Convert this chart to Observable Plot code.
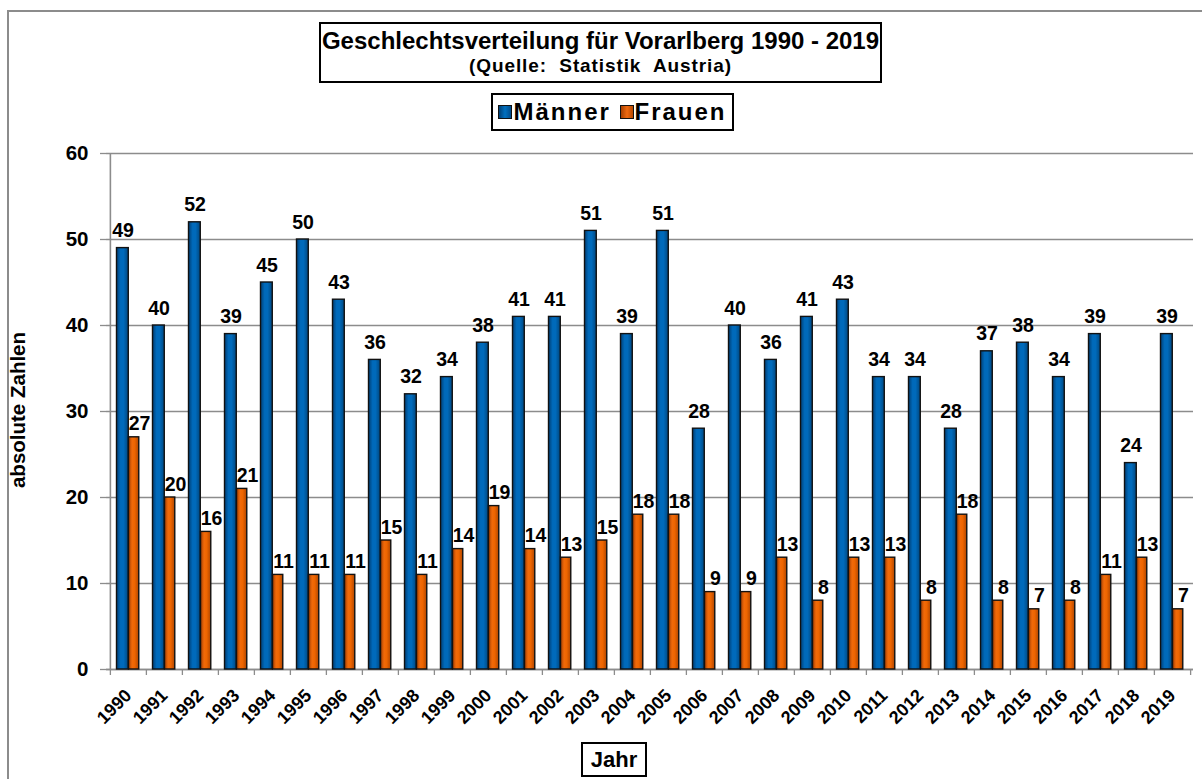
<!DOCTYPE html>
<html>
<head>
<meta charset="utf-8">
<script src="https://cdn.jsdelivr.net/npm/d3@7"></script>
<script src="https://cdn.jsdelivr.net/npm/@observablehq/plot@0.6"></script>
<style>
  html, body { margin: 0; padding: 0; background: #fff; overflow: hidden; }
  #wrap { position: relative; width: 1202px; height: 779px; overflow: hidden; font-family: "Liberation Sans", Arial, sans-serif; font-weight: bold; color: #000; }
  #frame { position: absolute; left: 7px; top: 10px; width: 1300px; height: 900px; border-left: 2px solid #8c8c8c; border-top: 2px solid #8c8c8c; box-sizing: border-box; }
  #chart { position: absolute; left: 0; top: 0; }
  .box { position: absolute; border: 2px solid #000; background: #fff; box-sizing: border-box; text-align: center; white-space: nowrap; }
  #title { left: 319px; top: 22px; width: 563px; height: 61px; }
  #title .t1 { font-size: 24px; margin-top: 2px; line-height: 29px; }
  #title .t2 { font-size: 19px; line-height: 22px; letter-spacing: 0.9px; }
  #legend { left: 491px; top: 93px; width: 243px; height: 38px; font-size: 24px; line-height: 34px; letter-spacing: 2px; }
  #legend .sw { display: inline-block; width: 12px; height: 12px; border: 1px solid #111; vertical-align: 1px; margin-right: 1px; }
  #jahr { left: 581px; top: 742px; width: 66px; height: 35px; font-size: 22px; line-height: 31px; }
  #ylab { position: absolute; left: 18px; top: 410px; transform: translate(-50%, -50%) rotate(-90deg); font-size: 20.5px; white-space: nowrap; }
</style>
</head>
<body>
<div id="wrap">
  <div id="frame"></div>
  <div id="chart"></div>
  <div class="box" id="title"><div class="t1">Geschlechtsverteilung für Vorarlberg 1990 - 2019</div><div class="t2">(Quelle:&nbsp; Statistik&nbsp; Austria)</div></div>
  <div class="box" id="legend"><span class="sw" style="background:linear-gradient(90deg,#003e73,#0070c0,#004a88)"></span>Männer&nbsp;<span class="sw" style="background:linear-gradient(90deg,#a84000,#f06a10,#b84800)"></span>Frauen</div>
  <div class="box" id="jahr">Jahr</div>
  <div id="ylab">absolute Zahlen</div>
</div>
<script>
const years = [1990,1991,1992,1993,1994,1995,1996,1997,1998,1999,2000,2001,2002,2003,2004,2005,2006,2007,2008,2009,2010,2011,2012,2013,2014,2015,2016,2017,2018,2019];
const maenner = [49,40,52,39,45,50,43,36,32,34,38,41,41,51,39,51,28,40,36,41,43,34,34,28,37,38,34,39,24,39];
const frauen  = [27,20,16,21,11,11,11,15,11,14,19,14,13,15,18,18,9,9,13,8,13,13,8,18,8,7,8,11,13,7];
const yTicks = [0,10,20,30,40,50,60];

const data = years.map((y, i) => ({year: y, m: maenner[i], f: frauen[i]}));

const W = 1202, H = 779, mL = 106, mR = 9, mT = 153, mB = 110;
const step = (W - mL - mR) / years.length;
const barW = 12;
const gapL = 6.5;

const plot = Plot.plot({
  width: W, height: H,
  marginLeft: mL, marginRight: mR, marginTop: mT, marginBottom: mB,
  style: {fontFamily: "'Liberation Sans', Arial, sans-serif", background: "transparent", overflow: "visible"},
  x: {type: "band", domain: years, padding: 0},
  y: {domain: [0, 60]},
  marks: [
    Plot.gridY(yTicks, {stroke: "#8c8c8c", strokeOpacity: 1, strokeWidth: 1.3}),
    Plot.axisY(yTicks, {tickSize: 6, tickPadding: 12, fontSize: 20.5, fontWeight: "bold", stroke: "#8c8c8c", strokeWidth: 1.3, fill: "#000", label: null}),
    Plot.ruleX([years[0]], {dx: -step / 2, y1: 0, y2: 60, stroke: "#8c8c8c", strokeWidth: 1.6}),
    Plot.ruleY([0], {stroke: "#8c8c8c", strokeWidth: 1.6}),
    Plot.axisX({tickSize: 6, dx: -step / 2, tickFormat: () => "", stroke: "#8c8c8c", strokeWidth: 1.3, label: null}),
    Plot.axisX([years[years.length - 1]], {tickSize: 6, dx: step / 2, tickFormat: () => "", stroke: "#8c8c8c", strokeWidth: 1.3, label: null}),
    Plot.axisX({tickSize: 0, tickPadding: 23, tickRotate: -45, tickFormat: d => String(d), fontSize: 18, fontWeight: "bold", fill: "#000", label: null}),
    Plot.barY(data, {x: "year", y: "m", insetLeft: gapL, insetRight: step - gapL - barW, fill: "url(#gradBlue)", stroke: "#111", strokeWidth: 1.4}),
    Plot.barY(data, {x: "year", y: "f", insetLeft: gapL + barW, insetRight: step - gapL - 2 * barW + 1.5, fill: "url(#gradOrange)", stroke: "#111", strokeWidth: 1.4}),
    Plot.text(data, {x: "year", y: "m", text: d => String(d.m), dx: -5.5, dy: -11, lineAnchor: "bottom", fontSize: 19.5, fontWeight: "bold", fill: "#000"}),
    Plot.text(data, {x: "year", y: "f", text: d => String(d.f), dx: 11, dy: -7, lineAnchor: "bottom", fontSize: 19.5, fontWeight: "bold", fill: "#000"})
  ]
});

// gradients for the bar shading
const ns = "http://www.w3.org/2000/svg";
const defs = document.createElementNS(ns, "defs");
function grad(id, stops) {
  const g = document.createElementNS(ns, "linearGradient");
  g.setAttribute("id", id);
  g.setAttribute("x1", "0"); g.setAttribute("x2", "1"); g.setAttribute("y1", "0"); g.setAttribute("y2", "0");
  stops.forEach(([o, c]) => {
    const s = document.createElementNS(ns, "stop");
    s.setAttribute("offset", o); s.setAttribute("stop-color", c);
    g.appendChild(s);
  });
  defs.appendChild(g);
}
grad("gradBlue", [["0", "#003e74"], ["0.35", "#006abb"], ["0.6", "#006abb"], ["1", "#00477f"]]);
grad("gradOrange", [["0", "#a03c00"], ["0.35", "#f06a0a"], ["0.6", "#ee6500"], ["1", "#b04600"]]);
plot.insertBefore(defs, plot.firstChild);

document.getElementById("chart").appendChild(plot);
</script>
</body>
</html>
